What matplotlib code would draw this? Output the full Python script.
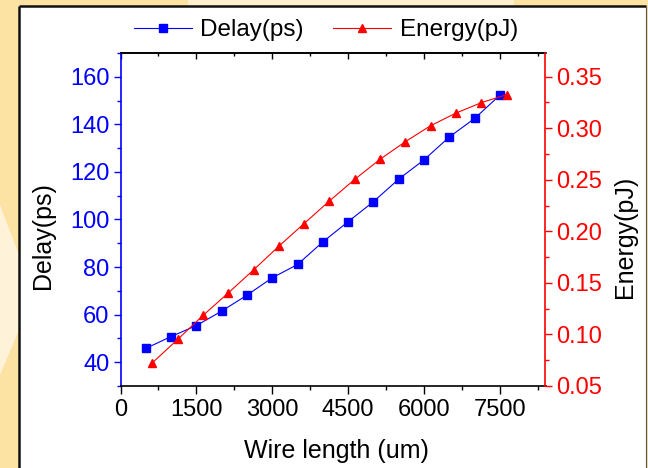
import matplotlib
matplotlib.use("Agg")
import matplotlib.pyplot as plt
from matplotlib.ticker import MultipleLocator, FixedLocator
from matplotlib.patches import Rectangle, Polygon

# ---- data ----
wire_delay = [500, 1000, 1500, 2000, 2500, 3000, 3500, 4000, 4500, 5000,
              5500, 6000, 6500, 7000, 7500]
delay_ps = [45.8, 50.8, 55.4, 61.5, 68.2, 75.5, 81.1, 90.6, 99.1, 107.5,
            117.0, 125.1, 134.7, 142.5, 152.3]
wire_energy = [630, 1130, 1630, 2130, 2630, 3130, 3630, 4130, 4630, 5130,
               5630, 6130, 6630, 7130, 7630]
energy_pj = [0.0725, 0.0952, 0.1184, 0.1403, 0.1626, 0.1856, 0.2076, 0.2295,
             0.2505, 0.2699, 0.2870, 0.3025, 0.3147, 0.3248, 0.3326]
x_ticks = [0, 1500, 3000, 4500, 6000, 7500]
delay_ticks = [40, 60, 80, 100, 120, 140, 160]
energy_ticks = [0.05, 0.10, 0.15, 0.20, 0.25, 0.30, 0.35]

plt.rcParams['font.family'] = ['Liberation Sans', 'DejaVu Sans']

W, H = 648, 468
fig = plt.figure(figsize=(W / 100, H / 100), dpi=100)
fig.patch.set_facecolor('#FCE3A3')

# background decoration axes (pixel coordinates)
bg = fig.add_axes([0, 0, 1, 1], zorder=-10)
bg.set_xlim(0, W)
bg.set_ylim(H, 0)
bg.axis('off')
bg.add_patch(Polygon([(188, 0), (514, 0), (514, 6), (188, 6)], closed=True,
                     facecolor='#FEF0CC', edgecolor='none'))
bg.add_patch(Polygon([(0, 205), (19, 255), (19, 330), (0, 375)], closed=True,
                     facecolor='#FEF3D8', edgecolor='none'))
bg.add_patch(Rectangle((19, 6), 646 - 19, 470 - 6, facecolor='white', edgecolor='none'))
bg.plot([19, 19], [6, 470], color='#111111', lw=1.8, solid_capstyle='butt')
bg.plot([19, 646], [6, 6], color='#111111', lw=1.8, solid_capstyle='butt')
bg.plot([646, 646], [6, 470], color='#555555', lw=0.8)

left, right, top, bottom = 120.5, 545.5, 53, 386
ax = fig.add_axes([left / W, 1 - bottom / H, (right - left) / W, (bottom - top) / H])
ax.set_facecolor('none')
ax2 = ax.twinx()

blue = '#0000FF'
red = '#FF0000'

l1, = ax.plot(wire_delay, delay_ps, color=blue, lw=0.8, marker='s', ms=5.2,
              mec=blue, mfc=blue, label='Delay(ps)')
l2, = ax2.plot(wire_energy, energy_pj, color=red, lw=0.8, marker='^', ms=6.2,
               mec=red, mfc=red, label='Energy(pJ)')

ax.set_xlim(0, 8400)
ax.set_ylim(30, 170)
ax2.set_ylim(0.05, 0.373)

ax.xaxis.set_major_locator(FixedLocator(x_ticks))
ax.xaxis.set_minor_locator(MultipleLocator(750))
ax.yaxis.set_major_locator(FixedLocator(delay_ticks))
ax.yaxis.set_minor_locator(MultipleLocator(10))
ax2.yaxis.set_major_locator(FixedLocator(energy_ticks))
ax2.yaxis.set_minor_locator(MultipleLocator(0.025))
ax2.set_yticklabels([f"{v:.2f}" for v in energy_ticks])

fs = 17
ax.tick_params(axis='x', which='both', direction='out', bottom=True, top=False,
               labelsize=fs, colors='black', pad=3.5)
ax.tick_params(axis='x', which='major', length=5.5, width=1)
ax.tick_params(axis='x', which='minor', length=3, width=1)
ax.tick_params(axis='y', which='both', direction='out', colors=blue, labelsize=fs,
               pad=3)
ax.tick_params(axis='y', which='major', length=5, width=1)
ax.tick_params(axis='y', which='minor', length=2.8, width=1)
ax2.tick_params(axis='y', which='both', direction='out', colors=red, labelsize=fs,
                pad=3)
ax2.tick_params(axis='y', which='major', length=5, width=1)
ax2.tick_params(axis='y', which='minor', length=2.8, width=1)

# top axis ticks pointing inward
sec = ax.secondary_xaxis('top')
sec.xaxis.set_major_locator(FixedLocator(x_ticks))
sec.xaxis.set_minor_locator(MultipleLocator(750))
sec.tick_params(axis='x', which='both', direction='in', labeltop=False, colors='black')
sec.tick_params(axis='x', which='major', length=4.5, width=1)
sec.tick_params(axis='x', which='minor', length=2.5, width=1)
sec.spines['top'].set_linewidth(1.2)

ax.spines['left'].set_color(blue)
ax.spines['bottom'].set_color('black')
ax.spines['top'].set_color('black')
ax.spines['right'].set_visible(False)
ax2.spines['left'].set_visible(False)
ax2.spines['top'].set_visible(False)
ax2.spines['bottom'].set_visible(False)
ax2.spines['right'].set_color(red)
for s in ax.spines.values():
    s.set_linewidth(1.2)
ax2.spines['right'].set_linewidth(1.2)

ax.set_xlabel('Wire length (um)', fontsize=18)
ax.xaxis.set_label_coords(0.507, -0.195)
ax.xaxis.label.set_va('center')
ax.set_ylabel('Delay(ps)', fontsize=18, color='black')
ax.yaxis.set_label_coords(-0.1815, 0.453)
ax.yaxis.label.set_va('center')
ax2.set_ylabel('Energy(pJ)', fontsize=18, color='black')
ax2.yaxis.set_label_coords(1.188, 0.448)
ax2.yaxis.label.set_va('center')

fig.legend(handles=[l1, l2], loc='center', bbox_to_anchor=(0.503, 1 - 30 / H),
           ncol=2, frameon=False, fontsize=17.5, handlelength=2.4,
           handletextpad=0.35, columnspacing=1.2, borderpad=0)

fig.savefig('out.png', dpi=100, facecolor=fig.get_facecolor())
